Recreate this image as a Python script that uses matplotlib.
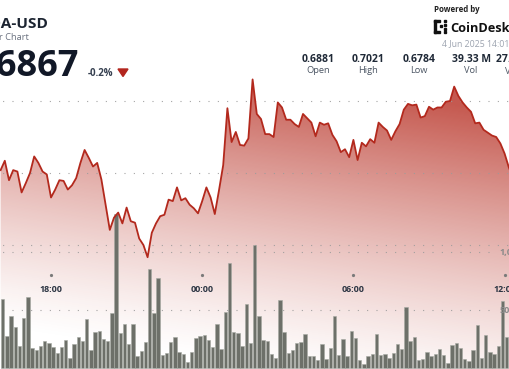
import numpy as np
import matplotlib
matplotlib.use("Agg")
import matplotlib.pyplot as plt
from matplotlib.patches import Polygon, Rectangle

plt.rcParams['font.family'] = ['Open Sans', 'DejaVu Sans']

# ---- data (ADA-USD, 10 minute steps from 16:00) ----
prices = [0.6904, 0.6917, 0.6890, 0.6904, 0.6902, 0.6873, 0.6886, 0.6900, 0.6923, 0.6914,
          0.6902, 0.6898, 0.6866, 0.6877, 0.6890, 0.6889, 0.6877, 0.6883, 0.6893, 0.6914,
          0.6932, 0.6921, 0.6909, 0.6914, 0.6891, 0.6856, 0.6821, 0.6838, 0.6845, 0.6830,
          0.6852, 0.6833, 0.6831, 0.6809, 0.6800, 0.6783, 0.6817, 0.6830, 0.6840, 0.6842,
          0.6863, 0.6861, 0.6880, 0.6862, 0.6865, 0.6856, 0.6851, 0.6844, 0.6861, 0.6880,
          0.6866, 0.6843, 0.6876, 0.6911, 0.6990, 0.6943, 0.6957, 0.6939, 0.6938, 0.6948,
          0.7030, 0.6982, 0.6975, 0.6954, 0.6954, 0.6950, 0.6998, 0.6991, 0.6974, 0.6974,
          0.6968, 0.6964, 0.6982, 0.6976, 0.6970, 0.6951, 0.6970, 0.6967, 0.6969, 0.6953,
          0.6944, 0.6929, 0.6933, 0.6922, 0.6946, 0.6918, 0.6942, 0.6937, 0.6947, 0.6942,
          0.6970, 0.6964, 0.6959, 0.6946, 0.6958, 0.6968, 0.6988, 0.6996, 0.6994, 0.6995,
          0.6977, 0.6979, 0.6992, 0.6988, 0.6991, 0.6991, 0.6999, 0.7000, 0.7020, 0.7007,
          0.6998, 0.6991, 0.6985, 0.6969, 0.6970, 0.6960, 0.6956, 0.6952, 0.6950, 0.6941,
          0.6927, 0.6908, 0.6893]

# volume per 10 minute bar, thousands
volumes = [592, 278, 446, 356, 190, 428, 615, 175, 155, 192,
           233, 213, 178, 132, 184, 241, 89, 207, 267, 235,
           420, 158, 310, 316, 253, 230, 472, 1325, 302, 377,
           209, 382, 101, 147, 227, 851, 472, 776, 112, 132,
           227, 267, 135, 118, 49, 138, 256, 276, 287, 244,
           184, 382, 161, 480, 903, 310, 299, 190, 554, 216,
           1063, 448, 241, 233, 118, 86, 584, 308, 127, 155,
           216, 222, 293, 106, 106, 72, 207, 78, 175, 451,
           112, 247, 103, 322, 261, 69, 34, 101, 118, 296,
           115, 123, 89, 132, 204, 161, 523, 230, 265, 66,
           75, 141, 106, 121, 161, 112, 43, 196, 213, 170,
           75, 60, 155, 371, 84, 282, 141, 118, 192, 580,
           265, 408]

tick_hours = [18, 24, 30, 36]
tick_labels = ['18:00', '00:00', '06:00', '12:00']
price_grid = [0.70, 0.69, 0.68]
vol_grid = [1000, 500]
vol_grid_labels = ['1,000K', '500K']

stat_values = ['0.6881', '0.7021', '0.6784', '39.33 M', '27.14 M']
stat_names = ['Open', 'High', 'Low', 'Vol', 'Vol $']

t_line = 16 + np.arange(len(prices)) / 6
t_bar = 16 + 1 / 12 + np.arange(len(volumes)) / 6

W, H = 510, 369
fig = plt.figure(figsize=(W / 100, H / 100), dpi=100)
ax = fig.add_axes([0, 0, 1, 1])
ax_vol = ax.twinx()
ax_line = ax.twinx()
for a in (ax, ax_vol, ax_line):
    a.axis('off')
    a.set_position([0, 0, 1, 1])

xlim = (15.97619, 36.21429)
plim = (0.662778, 0.714028)
vlim = (-8.6, 3172.4)

# ---- gradient fill under the price line ----
yy, xx = np.mgrid[0:H, 0:W]
s = ((H - yy) + 0.15 * (xx - W / 2)) / 294.0
s = np.clip(s, 0, 1)
alpha = 0.8 * s ** 1.3
rgba = np.zeros((H, W, 4))
rgba[..., 0] = 183 / 255
rgba[..., 1] = 48 / 255
rgba[..., 2] = 36 / 255
rgba[..., 3] = alpha
im = ax.imshow(rgba, extent=[xlim[0], xlim[1], plim[0], plim[1]],
               origin='upper', aspect='auto', zorder=1, interpolation='bilinear')
verts = np.column_stack([t_line, prices])
verts = np.vstack([[t_line[0], plim[0]], verts, [t_line[-1], plim[0]]])
clip = Polygon(verts, closed=True, facecolor='none', edgecolor='none')
ax.add_patch(clip)
im.set_clip_path(clip)

# dotted grid lines
for p in price_grid:
    ax.axhline(p, color='#9b9b9b', lw=0.8, linestyle=(6.0, (0.9, 7.5)), zorder=2)
ax_vol.hlines(vol_grid, xlim[0], 35.5, color='#9b9b9b', lw=0.8,
              linestyle=(6.0, (0.9, 7.5)), zorder=1)
for v, lab in zip(vol_grid, vol_grid_labels):
    ax_vol.text(35.8, v, lab, fontsize=6.5, fontweight='bold', color='#8a8a8a',
                va='center', ha='left')

# volume bars
ax_vol.bar(t_bar, volumes, width=0.131, color='#6d7069', edgecolor='#a6a9a2',
           linewidth=0.4, zorder=2)

# price line
ax_line.plot(t_line, prices, color='#b3291d', lw=1.3, solid_joinstyle='round', zorder=3)

for a, lim in ((ax, plim), (ax_vol, vlim), (ax_line, plim)):
    a.set_xlim(*xlim)
    a.set_ylim(*lim)

# time labels
tr = ax.get_xaxis_transform()
for h, lab in zip(tick_hours, tick_labels):
    ax.plot([h], [1 - 274.8 / H], 'o', ms=1.3, color='#7a7a7a', transform=tr, zorder=4)
    ax.text(h, 1 - 289.5 / H, lab, transform=tr, fontsize=6.4, fontweight='bold',
            color='#2b3442', ha='center', va='center', zorder=4)


# ---- header ----
def fx(x):
    return x / W


def fy(y):
    return 1 - y / H


fig.text(fx(47.7), fy(28), 'ADA-USD', fontsize=11.1, fontweight='bold',
         color='#1c2431', ha='right', va='baseline')
fig.text(fx(28.5), fy(40), '24 Hour Chart', fontsize=6.7, color='#6b7280',
         ha='right', va='baseline')
fig.text(fx(79.5), fy(76), '0.6867', fontsize=26, fontweight='bold',
         color='#111827', ha='right', va='baseline')
fig.text(fx(88), fy(75.5), '-0.2%', fontsize=7, fontweight='bold',
         color='#374151', ha='left', va='baseline')
fig.patches.append(Polygon([(fx(118), fy(69)), (fx(128), fy(69)), (fx(123), fy(76.5))],
                           closed=True, transform=fig.transFigure, color='#b3261e'))

fig.text(fx(434), fy(12.5), 'Powered by', fontsize=5.7, fontweight='bold',
         color='#222222', ha='left', va='baseline')
fig.text(fx(450), fy(32), 'CoinDesk', fontsize=9.2, fontweight='bold',
         color='#111111', ha='left', va='baseline')
# small logo mark
logo = [(434, 20, 2, 13), (434, 20, 6, 2), (434, 31, 6, 2),
        (444, 20, 2, 2), (444, 24, 2, 2), (444, 28, 2, 2), (444, 31, 2, 2),
        (440, 25, 2, 2)]
for x, y, w, h in logo:
    fig.patches.append(Rectangle((fx(x), fy(y + h)), w / W, h / H,
                                 transform=fig.transFigure, color='#111111'))
fig.text(fx(442), fy(46.5), '4 Jun 2025 14:01 UTC', fontsize=6.3, color='#9ca3af',
         ha='left', va='baseline')

stat_x = [318.3, 368.3, 419, 471, 516]
for x, val, name in zip(stat_x, stat_values, stat_names):
    fig.text(fx(x), fy(62.3), val, fontsize=7.5, fontweight='bold', color='#1f2937',
             ha='center', va='baseline')
    fig.text(fx(x), fy(73.3), name, fontsize=6.7, color='#4b5563',
             ha='center', va='baseline')

fig.savefig('out.png', dpi=100)
